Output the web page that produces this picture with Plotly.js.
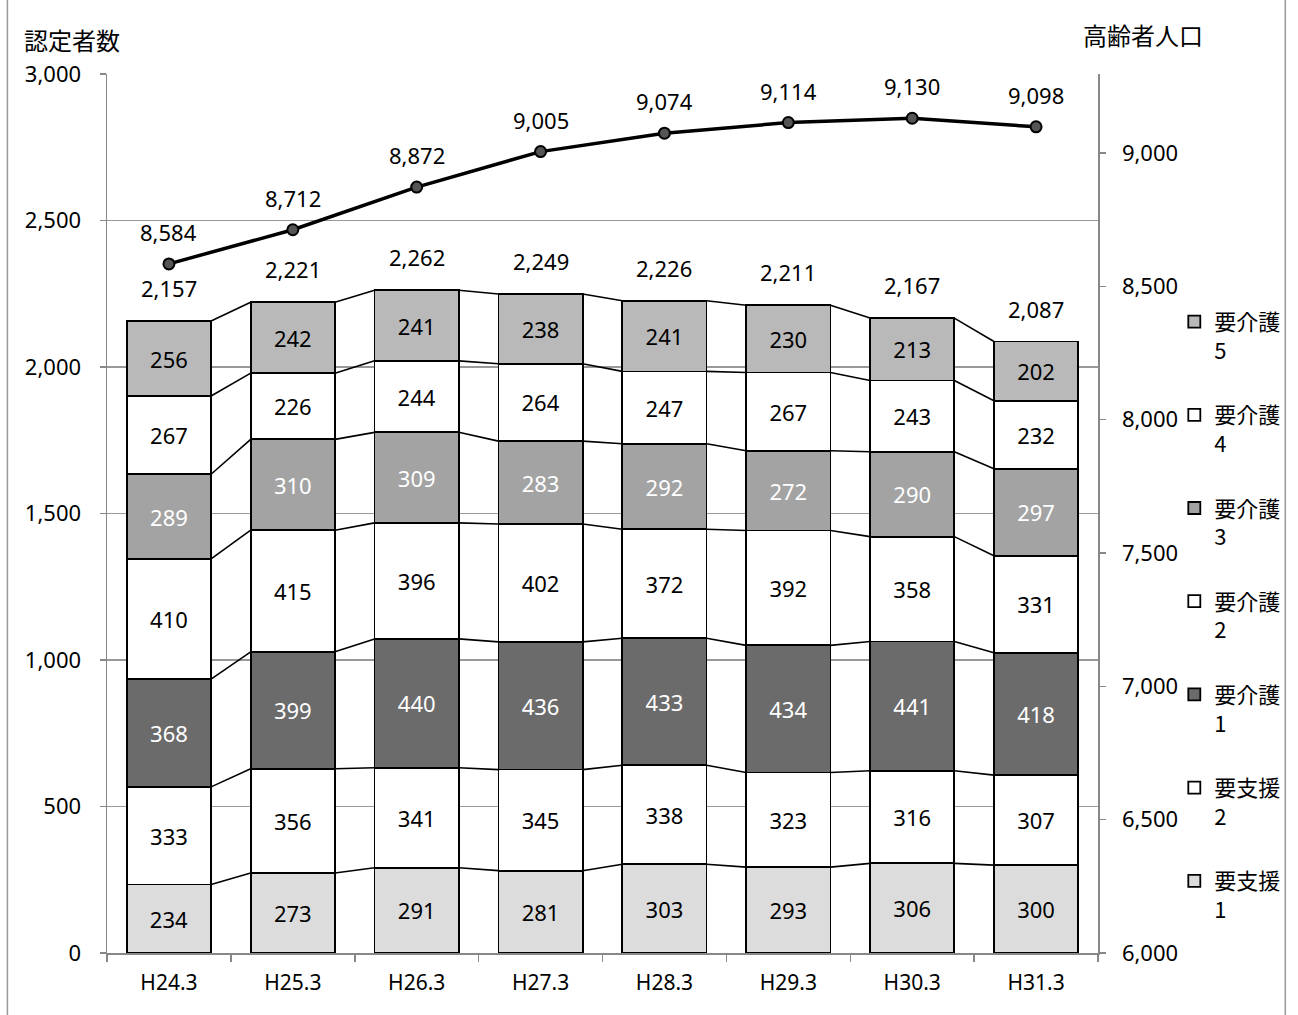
<!DOCTYPE html>
<html>
<head>
<meta charset="utf-8">
<script src="https://cdn.plot.ly/plotly-3.0.1.min.js"></script>
<style>
html,body{margin:0;padding:0;background:#fff;}
#chart{width:1298px;height:1015px;}
</style>
</head>
<body>
<div id="chart"></div>
<script>
const categories = ['H24.3','H25.3','H26.3','H27.3','H28.3','H29.3','H30.3','H31.3'];
const shien1 = [234,273,291,281,303,293,306,300];
const shien2 = [333,356,341,345,338,323,316,307];
const kaigo1 = [368,399,440,436,433,434,441,418];
const kaigo2 = [410,415,396,402,372,392,358,331];
const kaigo3 = [289,310,309,283,292,272,290,297];
const kaigo4 = [267,226,244,264,247,267,243,232];
const kaigo5 = [256,242,241,238,241,230,213,202];
const totals = [2157,2221,2262,2249,2226,2211,2167,2087];
const elderly = [8584,8712,8872,9005,9074,9114,9130,9098];

const seriesNames = ['要支援<br>1','要支援<br>2','要介護<br>1','要介護<br>2','要介護<br>3','要介護<br>4','要介護<br>5'];
const seriesData = [shien1, shien2, kaigo1, kaigo2, kaigo3, kaigo4, kaigo5];
const seriesColors = ['#dcdcdc','#ffffff','#6b6b6b','#ffffff','#a3a3a3','#ffffff','#b9b9b9'];
const textColors = ['#000','#000','#fff','#000','#fff','#000','#000'];

const FONT = "'Noto Sans', 'Noto Sans CJK JP', sans-serif";
const JFONT = "'Noto Sans CJK JP', 'Noto Sans', sans-serif";
const barWidth = 0.68;

const fmt = v => v.toLocaleString('en-US');

const traces = [];
seriesData.forEach((d, k) => {
  traces.push({
    type: 'bar',
    name: seriesNames[k],
    x: categories,
    y: d,
    width: barWidth,
    legendgroup: 'g' + k,
    legendrank: 100 - k,
    marker: {color: seriesColors[k], line: {color: '#000', width: 1.8}},
    text: d.map(String),
    textposition: 'inside',
    insidetextanchor: 'middle',
    textangle: 0,
    constraintext: 'none',
    insidetextfont: {family: FONT, size: 22, color: textColors[k]},
    hoverinfo: 'skip'
  });
});

// connector lines between adjacent bars (top of each stacked segment)
const cum = categories.map(() => 0);
seriesData.forEach((d) => {
  d.forEach((v, i) => { cum[i] += v; });
  const xs = [], ys = [];
  for (let i = 0; i < categories.length - 1; i++) {
    xs.push(i + barWidth / 2, i + 1 - barWidth / 2, null);
    ys.push(cum[i], cum[i + 1], null);
  }
  traces.push({
    type: 'scatter', mode: 'lines', x: xs, y: ys, xaxis: 'x2', yaxis: 'y',
    line: {color: '#000', width: 1.6}, showlegend: false, hoverinfo: 'skip'
  });
});

traces.push({
  type: 'scatter', mode: 'lines+markers', name: '高齢者人口',
  x: categories, y: elderly, yaxis: 'y2',
  line: {color: '#000', width: 3.5},
  marker: {size: 11, color: '#555', line: {color: '#000', width: 2}},
  showlegend: false, hoverinfo: 'skip'
});

const annotations = [];
categories.forEach((c, i) => {
  annotations.push({
    x: c, y: totals[i], xref: 'x', yref: 'y', text: fmt(totals[i]),
    showarrow: false, yanchor: 'middle', yshift: 33,
    font: {family: FONT, size: 22, color: '#000'}
  });
  annotations.push({
    x: c, y: elderly[i], xref: 'x', yref: 'y2', text: fmt(elderly[i]),
    showarrow: false, yanchor: 'middle', yshift: 32,
    font: {family: FONT, size: 22, color: '#000'}
  });
});
annotations.push({
  xref: 'paper', yref: 'paper', x: -0.0352, y: 1.0387, text: '認定者数',
  showarrow: false, xanchor: 'center', yanchor: 'middle',
  font: {family: JFONT, size: 24, color: '#000'}
});
annotations.push({
  xref: 'paper', yref: 'paper', x: 1.0452, y: 1.0444, text: '高齢者人口',
  showarrow: false, xanchor: 'center', yanchor: 'middle',
  font: {family: JFONT, size: 24, color: '#000'}
});

const layout = {
  width: 1298, height: 1015,
  margin: {l: 107, r: 196, t: 74, b: 62},
  paper_bgcolor: '#fff', plot_bgcolor: '#fff',
  barmode: 'stack',
  showlegend: true,
  font: {family: FONT, size: 22, color: '#000'},
  xaxis: {
    type: 'category', range: [-0.5, 7.5],
    tickson: 'boundaries', ticks: 'outside', ticklen: 7, tickcolor: '#888', tickwidth: 1.5,
    showline: true, linecolor: '#888', linewidth: 1.5,
    showgrid: false, zeroline: false,
    tickfont: {family: FONT, size: 21, color: '#000'},
    ticklabelstandoff: 10
  },
  xaxis2: {
    overlaying: 'x', range: [-0.5, 7.5], visible: false, showgrid: false, zeroline: false
  },
  yaxis: {
    range: [0, 3000], dtick: 500, tickformat: ',d',
    ticks: 'outside', ticklen: 6, tickcolor: '#888', tickwidth: 1.5,
    showline: true, linecolor: '#888', linewidth: 1.5,
    showgrid: true, gridcolor: '#999', gridwidth: 1.2, zeroline: false,
    tickfont: {family: FONT, size: 22, color: '#000'},
    ticklabelstandoff: 14
  },
  yaxis2: {
    overlaying: 'y', side: 'right', range: [6000, 9296],
    tickvals: [6000,6500,7000,7500,8000,8500,9000], tickformat: ',d',
    ticks: 'outside', ticklen: 6, tickcolor: '#888', tickwidth: 1.5,
    showline: true, linecolor: '#888', linewidth: 1.5,
    showgrid: false, zeroline: false,
    tickfont: {family: FONT, size: 22, color: '#000'},
    ticklabelstandoff: 12
  },
  legend: {
    x: 1.077, xanchor: 'left', y: 0.742, yanchor: 'top',
    traceorder: 'grouped', tracegroupgap: 33, valign: 'top',
    font: {family: JFONT, size: 22, color: '#000'},
    bgcolor: 'rgba(0,0,0,0)', itemclick: false
  },
  shapes: [{
    type: 'rect', xref: 'paper', yref: 'paper',
    x0: -0.1005, x1: 1.189, y0: -0.5, y1: 1.5,
    line: {color: '#999', width: 1.5}, fillcolor: 'rgba(0,0,0,0)', layer: 'below'
  }],
  annotations: annotations
};

Plotly.newPlot('chart', traces, layout, {displayModeBar: false, staticPlot: true});
</script>
</body>
</html>
